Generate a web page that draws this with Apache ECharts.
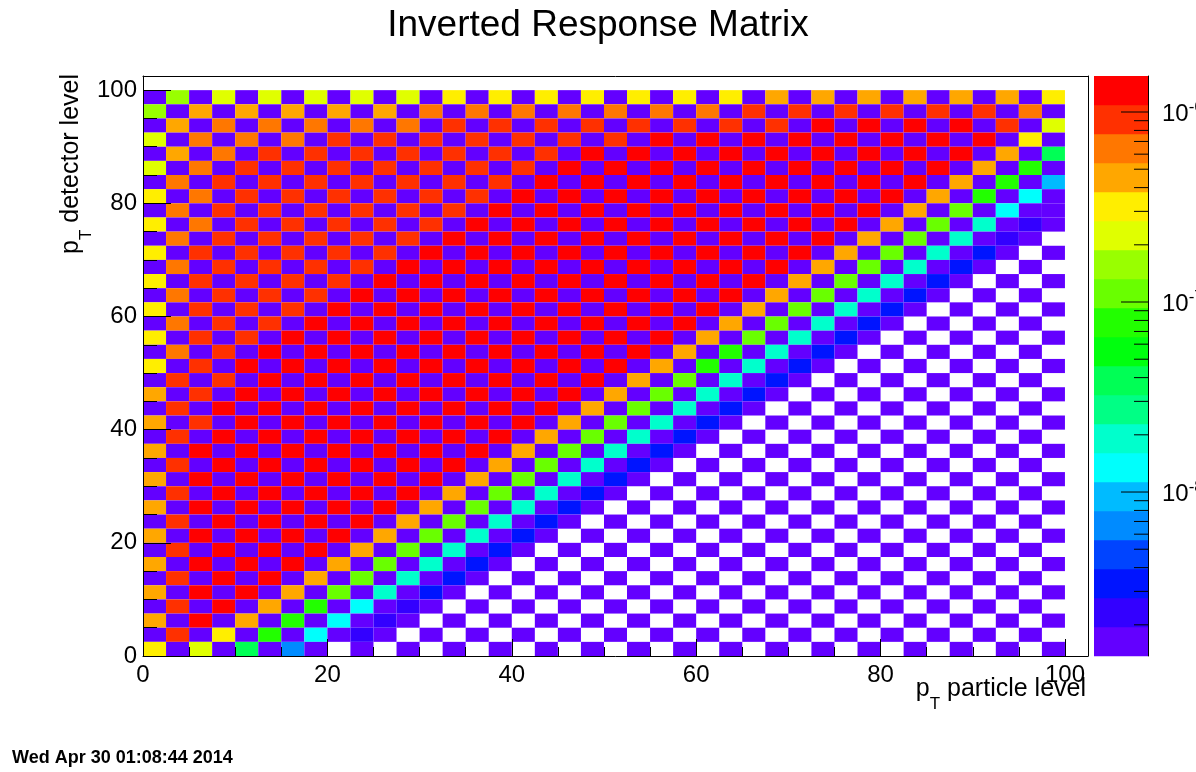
<!DOCTYPE html>
<html>
<head>
<meta charset="utf-8">
<script src="https://cdn.jsdelivr.net/npm/echarts@6/dist/echarts.min.js"></script>
<style>
html,body{margin:0;padding:0;background:#fff;}
#main{width:1196px;height:772px;}
</style>
</head>
<body>
<div id="main"></div>
<script>
const FONT = '"Liberation Sans", Arial, Helvetica, sans-serif';
const titleText = 'Inverted Response Matrix';
const dateStamp = 'Wed Apr 30 01:08:44 2014';

// ROOT "pretty" palette, 20 contour levels (purple -> red)
const levelColors = ['#6300ff','#3300ff','#0014ff','#0044ff','#008bff','#00bbff','#00fffc','#00ffcc','#00ff85','#00ff55',
                     '#00ff0e','#22ff00','#69ff00','#99ff00','#e0ff00','#ffee00','#ffa700','#ff7700','#ff3000','#ff0000'];
const levelCodes = '0123456789abcdefghij';   // cell code -> colour level, '.' = empty bin
const binWidth = 2.5;
const axisMax = 102.5;

// rows from y = 97.5-100 (top) down to y = 50-52.5 ; one char per x bin (0..100 in 2.5 steps)
const rowsUpper = [
  '0d0e0e0e0e0e0f0f0f0f0f0f0f0g0g0g0g0g0g0f',
  'd0g0g0g0g0g0h0h0h0h0h0h0h0i0i0i0i0i0i0h0',
  '0g0h0h0h0h0h0i0i0i0i0i0i0i0i0j0j0j0j0i0e',
  'e0h0h0h0i0i0i0i0i0i0i0j0j0j0j0j0j0j0j0f0',
  '0g0h0i0i0i0i0i0i0i0j0j0j0j0j0j0j0j0j0g09',
  'e0h0i0i0i0i0i0i0i0j0j0j0j0j0j0j0j0j0g0b0',
  '0h0i0i0i0i0i0i0i0j0j0j0j0j0j0j0j0j0g0b05',
  'f0h0i0i0i0i0i0i0j0j0j0j0j0j0j0j0j0g0b060',
  '0h0i0i0i0i0i0i0j0j0j0j0j0j0j0j0j0g0c0600',
  'f0h0i0i0i0i0i0j0j0j0j0j0j0j0j0j0g0c07010',
  '0h0i0i0i0i0i0j0j0j0j0j0j0j0j0j0g0c07010.',
  'f0i0i0i0i0i0j0j0j0j0j0j0j0j0j0g0c07020.0',
  '0h0i0i0i0i0j0j0j0j0j0j0j0j0j0g0c07020.0.',
  'f0i0i0i0i0j0j0j0j0j0j0j0j0j0g0c07020.0.0',
  '0h0i0i0i0j0j0j0j0j0j0j0j0j0g0c07020.0.0.',
  'f0i0i0i0j0j0j0j0j0j0j0j0j0g0c07020.0.0.0',
  '0h0i0i0j0j0j0j0j0j0j0j0j0g0c07020.0.0.0.',
  'f0i0i0j0j0j0j0j0j0j0j0j0g0c07020.0.0.0.0',
  '0h0i0j0j0j0j0j0j0j0j0j0g0b07020.0.0.0.0.',
  'f0i0j0j0j0j0j0j0j0j0j0g0b07020.0.0.0.0.0'
];
// rows from y = 47.5-50 down to y = 0-2.5 (bottom)
const rowsLower = [
  '0i0i0j0j0j0j0j0j0j0j0g0c07020.0.0.0.0.0.',
  'g0i0j0j0j0j0j0j0j0j0g0c07020.0.0.0.0.0.0',
  '0i0j0j0j0j0j0j0j0j0g0c07020.0.0.0.0.0.0.',
  'g0i0j0j0j0j0j0j0j0g0c07020.0.0.0.0.0.0.0',
  '0i0j0j0j0j0j0j0j0g0c07020.0.0.0.0.0.0.0.',
  'g0j0j0j0j0j0j0j0g0c07020.0.0.0.0.0.0.0.0',
  '0i0j0j0j0j0j0j0g0c07020.0.0.0.0.0.0.0.0.',
  'g0j0j0j0j0j0j0g0c07020.0.0.0.0.0.0.0.0.0',
  '0i0j0j0j0j0j0g0c07020.0.0.0.0.0.0.0.0.0.',
  'g0j0j0j0j0j0g0c07020.0.0.0.0.0.0.0.0.0.0',
  '0i0j0j0j0j0g0c07020.0.0.0.0.0.0.0.0.0.0.',
  'g0j0j0j0j0g0c07020.0.0.0.0.0.0.0.0.0.0.0',
  '0i0j0j0j0g0c07020.0.0.0.0.0.0.0.0.0.0.0.',
  'g0j0j0j0g0c07020.0.0.0.0.0.0.0.0.0.0.0.0',
  '0i0j0j0g0c07020.0.0.0.0.0.0.0.0.0.0.0.0.',
  'g0j0j0g0c07020.0.0.0.0.0.0.0.0.0.0.0.0.0',
  '0i0j0g0b06010.0.0.0.0.0.0.0.0.0.0.0.0.0.',
  'g0j0g0b06010.0.0.0.0.0.0.0.0.0.0.0.0.0.0',
  '0i0f0b06010.0.0.0.0.0.0.0.0.0.0.0.0.0.0.',
  'f0e09040.0.0.0.0.0.0.0.0.0.0.0.0.0.0.0.0'
];

// z (colour) axis: log10 range and decade labels
const zLogMin = -8.863;
const zLogMax = -5.8105;
const zMajorExp = [-8, -7, -6];
const zMinorMult = [2, 3, 4, 5, 6, 7, 8, 9];

// ---- build series data from the arrays above ----
const allRows = rowsUpper.concat(rowsLower);
const nRows = allRows.length;
const cellData = [];
allRows.forEach(function (row, i) {
  const yLow = (nRows - 1 - i) * binWidth;
  for (let c = 0; c < row.length; c++) {
    const ch = row.charAt(c);
    if (ch === '.') continue;
    cellData.push([c * binWidth, yLow, levelCodes.indexOf(ch)]);
  }
});

const nLevels = levelColors.length;
const bandStep = (zLogMax - zLogMin) / nLevels;
const bandData = levelColors.map(function (col, k) {
  return [0, zLogMin + k * bandStep, zLogMin + (k + 1) * bandStep, k];
});

const zTickData = [];
for (let e = -9; e <= -6; e++) {
  if (zMajorExp.indexOf(e) >= 0) zTickData.push([1, e, 1, e]);
  zMinorMult.forEach(function (m) {
    const v = e + Math.log10(m);
    if (v > zLogMin && v < zLogMax) zTickData.push([1, v, 0, e]);
  });
}

const chart = echarts.init(document.getElementById('main'), null, { renderer: 'canvas', width: 1196, height: 772 });

const labelStyle = { fontSize: 24, color: '#000', fontFamily: FONT };
const titleRich = {
  p: { fontSize: 25, fontFamily: FONT, fill: '#000', color: '#000', lineHeight: 48 },
  s: { fontSize: 17, fontFamily: FONT, fill: '#000', color: '#000', lineHeight: 17, verticalAlign: 'bottom' }
};

const option = {
  backgroundColor: '#fff',
  animation: false,
  grid: [
    { left: 143, top: 76, width: 945, height: 580, containLabel: false, outerBoundsMode: 'none' },
    { left: 1094, top: 76, width: 54, height: 580, containLabel: false, outerBoundsMode: 'none' }
  ],
  xAxis: [
    {
      gridIndex: 0, type: 'value', min: 0, max: axisMax, interval: 20, position: 'bottom', z: 10,
      axisLine: { show: true, onZero: false, lineStyle: { color: '#000', width: 1 } },
      axisTick: { show: true, inside: true, length: 17, lineStyle: { color: '#000', width: 1 } },
      minorTick: { show: true, splitNumber: 4, length: 9, lineStyle: { color: '#000', width: 1 } },
      axisLabel: Object.assign({ margin: 7, showMaxLabel: false, showMinLabel: true, hideOverlap: false }, labelStyle),
      splitLine: { show: false }, minorSplitLine: { show: false }
    },
    {
      gridIndex: 0, type: 'value', min: 0, max: axisMax, position: 'top', z: 10,
      axisLine: { show: true, onZero: false, lineStyle: { color: '#000', width: 1 } },
      axisTick: { show: false }, axisLabel: { show: false }, splitLine: { show: false }
    },
    {
      gridIndex: 1, type: 'value', min: 0, max: 1, show: false
    }
  ],
  yAxis: [
    {
      gridIndex: 0, type: 'value', min: 0, max: axisMax, interval: 20, position: 'left', z: 10,
      axisLine: { show: true, onZero: false, lineStyle: { color: '#000', width: 1 } },
      axisTick: { show: true, inside: true, length: 28, lineStyle: { color: '#000', width: 1 } },
      minorTick: { show: true, splitNumber: 4, length: 14, lineStyle: { color: '#000', width: 1 } },
      axisLabel: Object.assign({ margin: 6, showMaxLabel: false, showMinLabel: true, hideOverlap: false }, labelStyle),
      splitLine: { show: false }, minorSplitLine: { show: false }
    },
    {
      gridIndex: 0, type: 'value', min: 0, max: axisMax, position: 'right', z: 10,
      axisLine: { show: true, onZero: false, lineStyle: { color: '#000', width: 1 } },
      axisTick: { show: false }, axisLabel: { show: false }, splitLine: { show: false }
    },
    {
      gridIndex: 1, type: 'value', min: zLogMin, max: zLogMax, position: 'right', z: 10,
      axisLine: { show: true, onZero: false, lineStyle: { color: '#000', width: 1 } },
      axisTick: { show: false }, axisLabel: { show: false }, splitLine: { show: false }
    }
  ],
  series: [
    {
      type: 'custom', name: 'matrix', xAxisIndex: 0, yAxisIndex: 0, silent: true, z: 2,
      data: cellData,
      encode: { x: 0, y: 1 },
      renderItem: function (params, api) {
        const x = api.value(0), y = api.value(1), lv = api.value(2);
        const p0 = api.coord([x, y]);
        const p1 = api.coord([x + binWidth, y + binWidth]);
        return {
          type: 'rect',
          shape: { x: p0[0], y: p1[1], width: p1[0] - p0[0], height: p0[1] - p1[1] },
          style: { fill: levelColors[lv], stroke: null }
        };
      }
    },
    {
      type: 'custom', name: 'palette', xAxisIndex: 2, yAxisIndex: 2, silent: true, z: 2,
      data: bandData,
      encode: { x: 0, y: [1, 2] },
      renderItem: function (params, api) {
        const lo = api.value(1), hi = api.value(2), k = api.value(3);
        const p0 = api.coord([0, lo]);
        const p1 = api.coord([1, hi]);
        return {
          type: 'rect',
          shape: { x: p0[0], y: p1[1], width: p1[0] - p0[0], height: p0[1] - p1[1] + 0.3 },
          style: { fill: levelColors[k] }
        };
      }
    },
    {
      type: 'custom', name: 'zticks', xAxisIndex: 2, yAxisIndex: 2, silent: true, z: 20,
      data: zTickData,
      encode: { x: 0, y: 1 },
      renderItem: function (params, api) {
        const v = api.value(1), major = api.value(2), e = api.value(3);
        const p = api.coord([1, v]);
        const len = major ? 27 : 14;
        const children = [{
          type: 'line',
          shape: { x1: p[0] - len, y1: p[1], x2: p[0], y2: p[1] },
          style: { stroke: '#000', lineWidth: 1 }
        }];
        if (major) {
          children.push({
            type: 'text', x: p[0] + 14, y: p[1] + 2,
            style: {
              text: '{b|10}{s|' + e + '}',
              align: 'left', verticalAlign: 'middle', fill: '#000',
              rich: {
                b: { fontSize: 24, fontFamily: FONT, fill: '#000', lineHeight: 30 },
                s: { fontSize: 17, fontFamily: FONT, fill: '#000', lineHeight: 17, verticalAlign: 'top' }
              }
            }
          });
        }
        return { type: 'group', children: children };
      }
    }
  ],
  graphic: [
    {
      type: 'text', x: 598, y: 26, silent: true,
      style: { text: titleText, fontSize: 37, fontFamily: FONT, fill: '#000', align: 'center', verticalAlign: 'middle' }
    },
    {
      type: 'text', x: 71, y: 74, rotation: Math.PI / 2, silent: true,
      style: {
        text: '{p|p}{s|T}{p| detector level}',
        align: 'right', verticalAlign: 'middle', fill: '#000',
        rich: titleRich
      }
    },
    {
      type: 'text', x: 1086, y: 689, silent: true,
      style: {
        text: '{p|p}{s|T}{p| particle level}',
        align: 'right', verticalAlign: 'middle', fill: '#000',
        rich: titleRich
      }
    },
    {
      type: 'text', x: 12, y: 758, silent: true,
      style: { text: dateStamp, fontSize: 18, fontWeight: 'bold', fontFamily: FONT, fill: '#000', align: 'left', verticalAlign: 'middle' }
    }
  ]
};
chart.setOption(option);
</script>
</body>
</html>
